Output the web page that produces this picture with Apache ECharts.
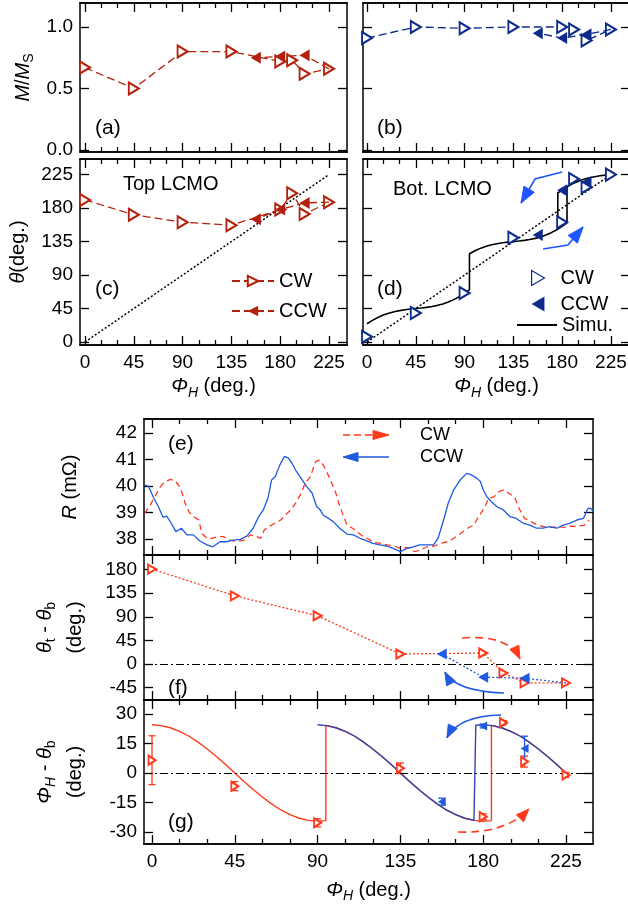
<!DOCTYPE html>
<html>
<head>
<meta charset="utf-8">
<script src="https://cdn.jsdelivr.net/npm/echarts@6/dist/echarts.min.js"></script>
<style>
html,body{margin:0;padding:0;background:#fff;}
#chart{width:628px;height:908px;}
</style>
</head>
<body>
<div id="chart"></div>
<script>
// ---------------- data ----------------
// field angle steps of the two sweeps (deg.)
const phiCW  = [0, 45, 90, 135, 180, 191, 202.5, 225];
const phiCCW = [202.5, 180, 157.5];

// (a) top layer, (b) bottom layer: M/Ms
const mTopCW  = [0.67, 0.50, 0.80, 0.80, 0.72, 0.73, 0.62, 0.66];
const mTopCCW = [0.77, 0.76, 0.75];
const mBotCW  = [0.91, 1.00, 0.99, 1.00, 1.00, 0.98, 0.89, 0.98];
const mBotCCW = [0.94, 0.91, 0.95];

// (c) top layer, (d) bottom layer: magnetisation angle (deg.)
const thTopCW  = [191, 171, 161, 157, 178, 200, 172, 188];
const thTopCCW = [187, 178, 165];
const thBotCW  = [7, 39, 66, 140, 161, 219, 208, 225];
const thBotCCW = [215, 204, 144];

// identity line Phi = theta
const diagPhi = [0, 225];

// (d) simulated bottom-layer angle
const simCWPhi = [0, 5, 10, 15, 20, 25, 30, 35, 40, 45, 50, 55, 60, 65, 70, 75, 80, 85, 90, 94.5,
  94.5, 100, 105, 110, 115, 120, 125, 130, 135, 140, 145, 150, 155, 160, 165, 170, 175, 180, 184.5,
  184.5, 190, 195, 200, 205, 210, 215, 220, 225];
const simCWTheta = [24.5, 29.1, 33.0, 36.2, 38.8, 40.7, 42.2, 43.4, 44.3, 45.0, 45.7, 46.6, 47.8, 49.3, 51.2, 53.8, 57.0, 60.9, 65.5, 70.3,
  118.7, 123.0, 126.2, 128.8, 130.7, 132.2, 133.4, 134.3, 135.0, 135.7, 136.6, 137.8, 139.3, 141.2, 143.8, 147.0, 150.9, 155.5, 160.3,
  208.7, 213.0, 216.2, 218.8, 220.7, 222.2, 223.4, 224.3, 225.0];
const simCCWPhi   = [184.5, 180, 176, 176];
const simCCWTheta = [208.7, 204.5, 200.3, 151.8];

// (e) resistance (mOhm)
const rPhiCW = [-4, -1, 2, 4.5, 7, 10, 12.5, 14.5, 16.5, 18, 20, 22.5, 25.5, 27, 30, 32.5, 35.5, 39, 42.5, 46,
  50, 53.5, 57, 59, 61, 63.5, 66.5, 70, 72.5, 75.5, 78, 81, 83.5, 85.5, 87, 89, 91, 92.5, 94.5, 97,
  100, 101.5, 103.5, 106, 109, 111.5, 114.5, 117, 120.5, 124.5, 128, 131.5, 135, 139, 142.5, 146, 149.5, 153.5, 157, 160.5,
  164, 168, 171.5, 175, 177.5, 180.5, 183, 186, 188.5, 191.5, 194, 197, 199.5, 202.5, 206, 209.5, 213, 217, 220.5, 224,
  227.5, 231, 235, 237.5];
const rCW = [38.97, 39.28, 39.66, 39.97, 40.16, 40.25, 40.20, 40.04, 39.72, 39.35, 39.03, 38.85, 38.72, 38.22, 38.03, 38.03, 38.09, 38.09, 37.96, 37.90,
  37.96, 38.16, 38.09, 38.03, 38.34, 38.47, 38.59, 38.72, 38.91, 39.10, 39.35, 39.72, 40.16, 40.29, 40.54, 40.92, 40.98, 40.86, 40.61, 40.23,
  39.72, 39.35, 38.97, 38.53, 38.41, 38.28, 38.11, 38.03, 37.87, 37.84, 37.78, 37.74, 37.65, 37.69, 37.53, 37.59, 37.71, 37.74, 37.84, 37.90,
  38.03, 38.22, 38.41, 38.53, 38.85, 39.16, 39.54, 39.60, 39.79, 39.86, 39.72, 39.60, 39.16, 38.78, 38.66, 38.53, 38.47, 38.44, 38.47, 38.44,
  38.49, 38.47, 38.53, 38.72];
const rPhiCCW = [-4, -2, 1, 3.5, 6, 8, 10.5, 13, 16, 19, 22.5, 26, 30, 33, 37, 40.5, 44, 48, 51.5, 55,
  58, 60.5, 63, 65, 67, 69.5, 72, 74, 76, 78.5, 81, 84, 87, 89.5, 91.5, 93, 96, 98.5, 102, 106,
  109.5, 113, 116.5, 120, 124, 127.5, 131, 135, 138.5, 142, 145.5, 149, 153, 155.5, 158.5, 161, 164, 167.5, 171, 173.5,
  176.5, 178.5, 180, 182, 184.5, 187.5, 191, 194.5, 198, 202, 205.5, 209, 212.5, 216, 220, 223.5, 227, 231, 234.5, 237,
  238.5, 240];
const rCCW = [40.04, 40.00, 39.54, 39.22, 38.82, 38.87, 38.59, 38.28, 38.41, 38.16, 38.16, 37.93, 37.78, 37.71, 37.90, 37.90, 37.96, 37.99, 38.11, 38.41,
  38.85, 39.10, 39.54, 40.23, 40.36, 40.80, 41.12, 41.06, 40.87, 40.55, 40.30, 39.99, 39.74, 39.23, 39.10, 38.91, 38.78, 38.66, 38.41, 38.19,
  38.16, 38.03, 37.94, 37.84, 37.78, 37.74, 37.65, 37.53, 37.65, 37.71, 37.78, 37.78, 37.78, 38.03, 38.72, 39.35, 39.86, 40.23, 40.48, 40.42,
  40.30, 40.17, 39.86, 39.60, 39.41, 39.22, 39.10, 38.85, 38.78, 38.59, 38.53, 38.41, 38.41, 38.47, 38.41, 38.53, 38.59, 38.72, 38.78, 39.16,
  39.16, 39.03];

// (f) theta_t - theta_b (deg.)
const dThCW  = [181, 130, 92, 19, 21, -17, -36, -36];
const dThCCW = [-27, -25, 19];

// (g) Phi_H - theta_b (deg.) with error bars
const dPhCW     = [6.5, -6.7, -25.3, 2.4, -22.2, 25.6, 5.8, -1.0];
const dPhCWErr  = [12.4, 2.3, 2.1, 2.7, 1.5, 1.0, 2.8, 1.2];
const dPhCCW    = [12.4, 23.9, -14.6];
const dPhCCWErr = [6.3, 1.0, 1.8];

// (g) model curves
const fitCWPhi = [0, 5, 10, 15, 20, 25, 30, 35, 40, 45, 50, 55, 60, 65, 70, 75, 80, 85, 90, 94.5,
  94.5, 100, 105, 110, 115, 120, 125, 130, 135, 140, 145, 150, 155, 160, 165, 170, 175, 180, 184.5,
  184.5, 190, 195, 200, 205, 210, 215, 220, 225];
const fitCWVal = [24.5, 24.1, 23.0, 21.2, 18.8, 15.7, 12.2, 8.4, 4.3, 0, -4.3, -8.4, -12.2, -15.7, -18.8, -21.2, -23.0, -24.1, -24.5, -24.2,
  24.2, 23.0, 21.2, 18.8, 15.7, 12.2, 8.4, 4.3, 0, -4.3, -8.4, -12.2, -15.7, -18.8, -21.2, -23.0, -24.1, -24.5, -24.2,
  24.2, 23.0, 21.2, 18.8, 15.7, 12.2, 8.4, 4.3, 0];
const fitCCWPhi = [90, 95, 100, 105, 110, 115, 120, 125, 130, 135, 140, 145, 150, 155, 160, 165, 170, 175, 176,
  176, 180, 185, 190, 195, 200, 205, 210, 215, 220, 225];
const fitCCWVal = [24.5, 24.1, 23.0, 21.2, 18.8, 15.7, 12.2, 8.4, 4.3, 0, -4.3, -8.4, -12.2, -15.7, -18.8, -21.2, -23.0, -24.1, -24.2,
  24.3, 24.5, 24.1, 23.0, 21.2, 18.8, 15.7, 12.2, 8.4, 4.3, 0];

// tick values
const phiTicks      = [0, 45, 90, 135, 180, 225];
const phiMinorTicks = [15, 30, 60, 75, 105, 120, 150, 165, 195, 210];
const mTicks        = [0, 0.5, 1.0];
const thetaTicks    = [0, 45, 90, 135, 180, 225];
const rTicks        = [38, 39, 40, 41, 42];
const dThTicks      = [-45, 0, 45, 90, 135, 180];
const dPhTicks      = [-30, -15, 0, 15, 30];

// ---------------- styling ----------------
const FONT = 'Liberation Sans';
const DARK_RED = '#b3200c';
const NAVY = '#0c2b8a';
const RED = '#ff3a1c';
const BLUE = '#1f5ae0';
const BLUE_FIT = '#3343ad';
const ARROW_BLUE = '#1e55ff';

const zip = (xs, ys) => xs.map((x, i) => [x, ys[i]]);

const richBase = {
  n:   { fontSize: 20, fontFamily: FONT, color: '#000', lineHeight: 24 },
  it:  { fontSize: 20, fontFamily: FONT, color: '#000', fontStyle: 'italic', lineHeight: 24 },
  sub: { fontSize: 14, fontFamily: FONT, color: '#000', padding: [13, 0, 0, 0], lineHeight: 24 },
  subi:{ fontSize: 14, fontFamily: FONT, color: '#000', fontStyle: 'italic', padding: [13, 0, 0, 0], lineHeight: 24 }
};
const richTwo = {
  n:   { fontSize: 20, fontFamily: FONT, color: '#000', lineHeight: 30 },
  it:  { fontSize: 20, fontFamily: FONT, color: '#000', fontStyle: 'italic', lineHeight: 30 },
  sub: { fontSize: 14, fontFamily: FONT, color: '#000', padding: [13, 0, 0, 0], lineHeight: 30 },
  subi:{ fontSize: 14, fontFamily: FONT, color: '#000', fontStyle: 'italic', padding: [13, 0, 0, 0], lineHeight: 30 }
};

const phiName = '{it|Φ}{subi|H}{n| (deg.)}';

const panels = [
  { grid: { left: 80,  top: 3,   width: 267, height: 149 }, x: [-4.6, 241.6], y: [-0.016, 1.195], yTicks: mTicks, yFmt: v => v.toFixed(1), xLab: false, yLab: true,
    yName: '{it|M}{n|/}{it|M}{sub|S}', yGap: 45, rich: richBase },
  { grid: { left: 363, top: 3,   width: 267, height: 149 }, x: [-3.7, 242.6], y: [-0.016, 1.195], yTicks: mTicks, xLab: false, yLab: false },
  { grid: { left: 80,  top: 159, width: 267, height: 186 }, x: [-4.6, 241.6], y: [-4, 246], yTicks: thetaTicks, xLab: true, yLab: true,
    yName: '{it|θ}{n|(deg.)}', yGap: 50, rich: richBase, xName: phiName, xGap: 29 },
  { grid: { left: 363, top: 159, width: 267, height: 186 }, x: [-3.7, 242.6], y: [-4, 246], yTicks: thetaTicks, xLab: true, yLab: false,
    xName: phiName, xGap: 29 },
  { grid: { left: 144, top: 419, width: 449, height: 136 }, x: [-4.35, 239.7], y: [37.4, 42.53], yTicks: rTicks, xLab: false, yLab: true,
    yName: '{it|R}{n| (mΩ)}', yGap: 62, rich: richBase },
  { grid: { left: 144, top: 555, width: 449, height: 145 }, x: [-4.35, 239.7], y: [-68.6, 207.9], yTicks: dThTicks, xLab: false, yLab: true,
    yName: '{it|θ}{sub|t}{n| - }{it|θ}{sub|b}\n{n|(deg.)}', yGap: 54, rich: richTwo },
  { grid: { left: 144, top: 700, width: 449, height: 144 }, x: [-4.35, 239.7], y: [-36.1, 37.1], yTicks: dPhTicks, xLab: true, yLab: true,
    yName: '{it|Φ}{subi|H}{n| - }{it|θ}{sub|b}\n{n|(deg.)}', yGap: 54, rich: richTwo, xName: phiName, xGap: 34 }
];

const axisLineStyle = { show: true, onZero: false, lineStyle: { color: '#000', width: 1.5 } };
const tickStyle = { color: '#000', width: 1.3 };
const labelStyle = { color: '#000', fontSize: 19, fontFamily: FONT };

const grids = [], xAxes = [], yAxes = [];
panels.forEach((p, i) => {
  grids.push(Object.assign({ outerBoundsMode: 'none', containLabel: false }, p.grid));
  const xb = { type: 'value', gridIndex: i, min: p.x[0], max: p.x[1], splitLine: { show: false }, axisLine: axisLineStyle };
  xAxes.push(Object.assign({}, xb, {
    position: 'bottom',
    axisTick: { show: true, inside: true, length: 9, customValues: phiTicks, lineStyle: tickStyle },
    axisLabel: Object.assign({ show: p.xLab, customValues: phiTicks, margin: 8 }, labelStyle),
    name: p.xName || '', nameLocation: 'middle', nameGap: p.xGap || 0,
    nameTextStyle: { rich: richBase }
  }));
  xAxes.push(Object.assign({}, xb, {
    position: 'bottom',
    axisTick: { show: true, inside: true, length: 5, customValues: phiMinorTicks, lineStyle: tickStyle },
    axisLabel: { show: false }
  }));
  xAxes.push(Object.assign({}, xb, {
    position: 'top',
    axisTick: { show: true, inside: true, length: 9, customValues: phiTicks, lineStyle: tickStyle },
    axisLabel: { show: false }
  }));
  xAxes.push(Object.assign({}, xb, {
    position: 'top',
    axisTick: { show: true, inside: true, length: 5, customValues: phiMinorTicks, lineStyle: tickStyle },
    axisLabel: { show: false }
  }));
  const yb = { type: 'value', gridIndex: i, min: p.y[0], max: p.y[1], splitLine: { show: false }, axisLine: axisLineStyle };
  yAxes.push(Object.assign({}, yb, {
    position: 'left',
    axisTick: { show: true, inside: true, length: 9, customValues: p.yTicks, lineStyle: tickStyle },
    axisLabel: Object.assign({ show: p.yLab, customValues: p.yTicks, margin: 7,
      formatter: p.yFmt || (v => String(v)) }, labelStyle),
    name: p.yName || '', nameLocation: 'middle', nameGap: p.yGap || 0, nameRotate: 90,
    nameTextStyle: { rich: p.rich || richBase }
  }));
  yAxes.push(Object.assign({}, yb, {
    position: 'right',
    axisTick: { show: true, inside: true, length: 9, customValues: p.yTicks, lineStyle: tickStyle },
    axisLabel: { show: false }
  }));
});

const X = i => 4 * i;   // bottom major x axis of panel i
const Y = i => 2 * i;   // left y axis of panel i

// open markers keep the series colour as outline; filled markers are solid
const markerStyle = (color, filled) => filled
  ? { color, borderColor: color, borderWidth: 0, opacity: 1 }
  : { color, borderColor: color, borderWidth: 1.2, opacity: 1 };

function sweepLine(name, i, pts, color, filled, size, dash, opts) {
  opts = opts || {};
  const data = pts.map((p, k) => (opts.skipFirstSymbol && k === 0) ? { value: p, symbol: 'none' } : p);
  return {
    name, type: 'line', xAxisIndex: X(i), yAxisIndex: Y(i), data,
    symbol: filled ? 'triangle' : 'emptyTriangle',
    symbolRotate: filled ? 90 : -90,
    symbolSize: size,
    showAllSymbol: true,
    color,
    itemStyle: markerStyle(color, filled),
    lineStyle: { color, width: 1.3, type: dash },
    z: opts.z || 3
  };
}

function scatter(name, i, pts, color, filled, size) {
  return {
    name, type: 'scatter', xAxisIndex: X(i), yAxisIndex: Y(i), data: pts,
    symbol: filled ? 'triangle' : 'emptyTriangle',
    symbolRotate: filled ? 90 : -90, symbolSize: size, color,
    itemStyle: markerStyle(color, filled),
    z: 5
  };
}

function plainLine(name, i, pts, color, width, dash, z) {
  return {
    name, type: 'line', xAxisIndex: X(i), yAxisIndex: Y(i), data: pts, symbol: 'none', color,
    lineStyle: { color, width, type: dash }, z: z || 2
  };
}

function errorBars(name, i, xs, vals, errs, color) {
  return {
    name, type: 'custom', xAxisIndex: X(i), yAxisIndex: Y(i),
    data: xs.map((x, k) => [x, vals[k] - errs[k], vals[k] + errs[k]]),
    encode: { x: 0, y: [1, 2] }, z: 4,
    renderItem: (params, api) => {
      const x = api.value(0);
      const p1 = api.coord([x, api.value(1)]);
      const p2 = api.coord([x, api.value(2)]);
      const c = 3.5, st = { stroke: color, lineWidth: 1.3, fill: null };
      return { type: 'group', children: [
        { type: 'line', shape: { x1: p1[0], y1: p1[1], x2: p2[0], y2: p2[1] }, style: st },
        { type: 'line', shape: { x1: p1[0] - c, y1: p1[1], x2: p1[0] + c, y2: p1[1] }, style: st },
        { type: 'line', shape: { x1: p2[0] - c, y1: p2[1], x2: p2[0] + c, y2: p2[1] }, style: st }
      ] };
    }
  };
}

const zeroLine = {
  silent: true, symbol: 'none', label: { show: false },
  lineStyle: { color: '#000', width: 1.2, type: [8, 3, 2, 3] },
  data: [{ yAxis: 0 }]
};

const cwEnd = arr => [phiCW[phiCW.length - 1], arr[arr.length - 1]];
const DASH = [8, 4];
const DOT = [2, 2];

const series = [
  // (a)
  sweepLine('a-CW', 0, zip(phiCW, mTopCW), DARK_RED, false, [12, 10], DASH),
  sweepLine('a-CCW', 0, [cwEnd(mTopCW)].concat(zip(phiCCW, mTopCCW)), DARK_RED, true, [12, 10], DASH, { skipFirstSymbol: true, z: 4 }),
  // (b)
  sweepLine('b-CW', 1, zip(phiCW, mBotCW), NAVY, false, [12, 10], DASH),
  sweepLine('b-CCW', 1, [cwEnd(mBotCW)].concat(zip(phiCCW, mBotCCW)), NAVY, true, [12, 10], DASH, { skipFirstSymbol: true, z: 4 }),
  // (c)
  plainLine('c-diag', 2, zip(diagPhi, diagPhi), '#000', 1.5, DOT, 1),
  sweepLine('c-CW', 2, zip(phiCW, thTopCW), DARK_RED, false, [12, 10], DASH),
  sweepLine('c-CCW', 2, [cwEnd(thTopCW)].concat(zip(phiCCW, thTopCCW)), DARK_RED, true, [12, 10], DASH, { skipFirstSymbol: true, z: 4 }),
  // (d)
  plainLine('d-diag', 3, zip(diagPhi, diagPhi), '#000', 1.5, DOT, 1),
  plainLine('d-Simu', 3, zip(simCWPhi, simCWTheta), '#000', 1.6, 'solid', 2),
  plainLine('d-SimuCCW', 3, zip(simCCWPhi, simCCWTheta), '#000', 1.6, 'solid', 2),
  scatter('d-CW', 3, zip(phiCW, thBotCW), NAVY, false, [12, 10]),
  scatter('d-CCW', 3, zip(phiCCW, thBotCCW), NAVY, true, [12, 10]),
  // (e)
  plainLine('e-CW', 4, zip(rPhiCW, rCW), RED, 1.3, [6, 4], 2),
  plainLine('e-CCW', 4, zip(rPhiCCW, rCCW), BLUE, 1.3, 'solid', 3),
  // (f)
  Object.assign(sweepLine('f-CW', 5, zip(phiCW, dThCW), RED, false, [9, 8], DOT), { markLine: zeroLine }),
  sweepLine('f-CCW', 5, [cwEnd(dThCW)].concat(zip(phiCCW, dThCCW)), BLUE, true, [11, 10], DOT, { skipFirstSymbol: true, z: 4 }),
  // (g)
  Object.assign(plainLine('g-fitCW', 6, zip(fitCWPhi, fitCWVal), RED, 1.4, 'solid', 2), { markLine: zeroLine }),
  plainLine('g-fitCCW', 6, zip(fitCCWPhi, fitCCWVal), BLUE_FIT, 1.4, 'solid', 3),
  errorBars('g-errCW', 6, phiCW, dPhCW, dPhCWErr, RED),
  errorBars('g-errCCW', 6, phiCCW, dPhCCW, dPhCCWErr, BLUE),
  scatter('g-CW', 6, zip(phiCW, dPhCW), RED, false, [9, 7]),
  scatter('g-CCW', 6, zip(phiCCW, dPhCCW), BLUE, true, [9, 8])
];

const legendNames = { 'c-CW': 'CW', 'c-CCW': 'CCW', 'd-CW': 'CW', 'd-CCW': 'CCW', 'd-Simu': 'Simu.' };
const legendText = { color: '#000', fontSize: 20, fontFamily: FONT };
const RIGHT_TRI = 'path://M0,0L12,7L0,14Z';
const LEFT_TRI = 'path://M12,0L0,7L12,14Z';

const option = {
  animation: false,
  backgroundColor: '#fff',
  grid: grids,
  xAxis: xAxes,
  yAxis: yAxes,
  legend: [
    { data: ['c-CW', 'c-CCW'], left: 231, top: 271, orient: 'vertical', itemWidth: 42, itemHeight: 13, itemGap: 10,
      padding: 0, formatter: n => legendNames[n], textStyle: legendText, selectedMode: false },
    { data: [
        { name: 'd-CW', icon: RIGHT_TRI, itemStyle: { color: '#fff', borderColor: NAVY, borderWidth: 1.2, opacity: 1 } },
        { name: 'd-CCW', icon: LEFT_TRI, itemStyle: { color: NAVY, borderColor: NAVY, borderWidth: 0, opacity: 1 } }
      ],
      left: 531, top: 268, orient: 'vertical', itemWidth: 13, itemHeight: 15, itemGap: 6,
      padding: 0, formatter: n => legendNames[n], selectedMode: false,
      textStyle: Object.assign({ padding: [0, 0, 0, 11] }, legendText) },
    { data: [{ name: 'd-Simu', icon: 'rect' }], left: 517, top: 315, orient: 'vertical', itemWidth: 40, itemHeight: 2,
      padding: 0, formatter: n => legendNames[n], textStyle: legendText, selectedMode: false }
  ],
  series
};

const chart = echarts.init(document.getElementById('chart'), null, { renderer: 'canvas' });
chart.setOption(option);

// ---------------- annotations ----------------
// arrows given in the axis units of their panel: [start, (bend), tip]
const annotations = [
  { panel: 3, kind: 'poly', pts: [[179.9, 228.5], [155, 219.1], [142.1, 186.8]], color: ARROW_BLUE, head: [16, 6] },
  { panel: 3, kind: 'poly', pts: [[162.4, 125], [185.4, 130.4], [199.3, 154.6]], color: ARROW_BLUE, head: [16, 6] },
  { panel: 5, kind: 'quad', pts: [[168.5, 49.6], [193.5, 57.2], [200, 9.5]], color: RED, dash: true },
  { panel: 5, kind: 'quad', pts: [[191.3, -55.3], [164.7, -51.5], [159.2, -15.3]], color: BLUE },
  { panel: 6, kind: 'quad', pts: [[189.7, 29.5], [166.3, 29.0], [160.3, 17.8]], color: BLUE },
  { panel: 6, kind: 'quad', pts: [[166.3, -30.0], [191.8, -31.0], [204.9, -18.3]], color: RED, dash: true }
];

function arrowHead(tip, from, color, L, W) {
  const dx = tip[0] - from[0], dy = tip[1] - from[1];
  const len = Math.hypot(dx, dy) || 1;
  const ux = dx / len, uy = dy / len;
  const bx = tip[0] - ux * L, by = tip[1] - uy * L;
  return {
    type: 'polygon', silent: true, z: 10,
    shape: { points: [tip, [bx - uy * W, by + ux * W], [bx + uy * W, by - ux * W]] },
    style: { fill: color, stroke: color, lineWidth: 1 }
  };
}

const graphics = [];
annotations.forEach(a => {
  const px = a.pts.map(p => chart.convertToPixel({ xAxisIndex: X(a.panel), yAxisIndex: Y(a.panel) }, p));
  const st = { stroke: a.color, lineWidth: 1.6, fill: null, lineDash: a.dash ? [8, 5] : null };
  if (a.kind === 'quad') {
    graphics.push({ type: 'bezierCurve', silent: true, z: 10,
      shape: { x1: px[0][0], y1: px[0][1], cpx1: px[1][0], cpy1: px[1][1], x2: px[2][0], y2: px[2][1] }, style: st });
  } else {
    graphics.push({ type: 'polyline', silent: true, z: 10, shape: { points: px }, style: st });
  }
  const h = a.head || [13, 5];
  graphics.push(arrowHead(px[2], px[1], a.color, h[0], h[1]));
});

// panel letters and layer captions
const textEl = (text, x, y, size) => ({
  type: 'text', x, y, silent: true, z: 10,
  style: { text, fill: '#000', font: size + 'px "' + FONT + '"', textAlign: 'left', textVerticalAlign: 'middle' }
});
graphics.push(textEl('(a)', 95, 128, 21));
graphics.push(textEl('(b)', 377, 128, 21));
graphics.push(textEl('(c)', 95, 289, 21));
graphics.push(textEl('(d)', 377, 289, 21));
graphics.push(textEl('(e)', 168, 444, 21));
graphics.push(textEl('(f)', 168, 688, 21));
graphics.push(textEl('(g)', 168, 822, 21));
graphics.push(textEl('Top LCMO', 123, 184, 20));
graphics.push(textEl('Bot. LCMO', 393, 189, 20));

// sweep-direction key of panel (e)
graphics.push({ type: 'line', silent: true, z: 10, shape: { x1: 343, y1: 435, x2: 376, y2: 435 },
  style: { stroke: RED, lineWidth: 1.5, lineDash: [7, 4] } });
graphics.push(arrowHead([389, 435], [343, 435], RED, 16, 4.5));
graphics.push(textEl('CW', 420, 435, 18));
graphics.push({ type: 'line', silent: true, z: 10, shape: { x1: 350, y1: 457, x2: 389, y2: 457 },
  style: { stroke: BLUE, lineWidth: 1.5 } });
graphics.push(arrowHead([343, 457], [389, 457], BLUE, 15, 4.5));
graphics.push(textEl('CCW', 420, 457, 18));

chart.setOption({ graphic: { elements: graphics } });
</script>
</body>
</html>
